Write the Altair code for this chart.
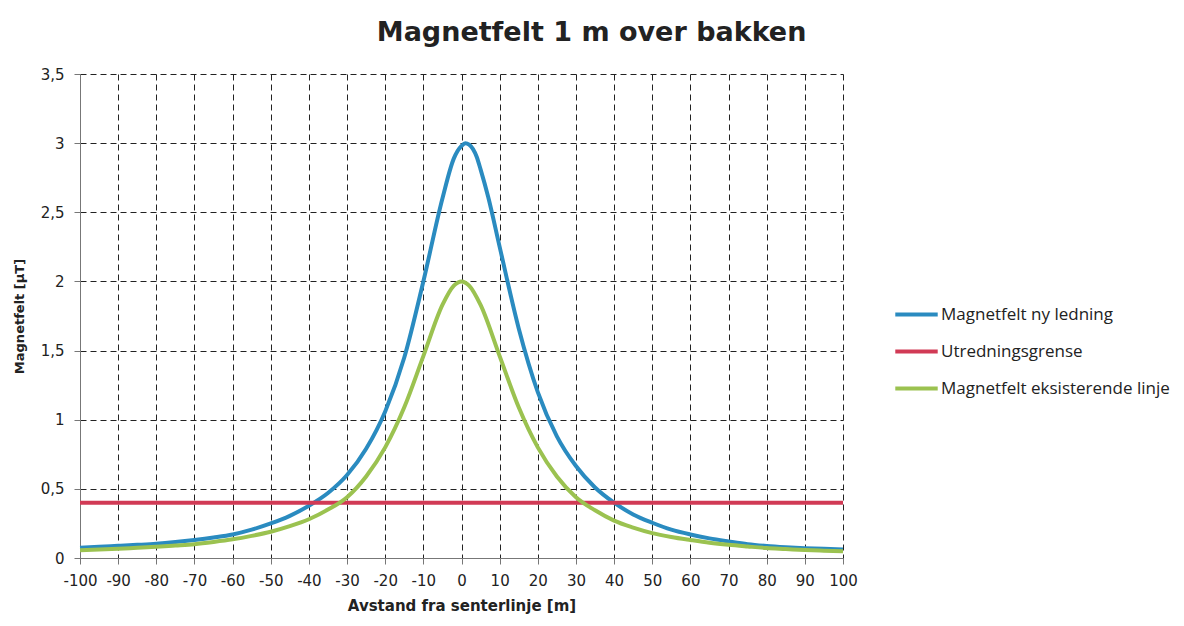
import altair as alt
import pandas as pd

# Distance from centre line [m] and field values [µT]
x_ny = [-100, -95, -90, -85, -80, -75, -70, -65, -60, -55, -50, -45, -40, -35, -30, -25, -20, -15,
        -10, -5, -2, 0, 1, 2, 4, 5, 7, 10, 15, 20, 25, 30, 35, 40, 45, 50, 55, 60, 65, 70, 75,
        80, 85, 90, 95, 100]
y_ny = [0.075, 0.081, 0.088, 0.095, 0.103, 0.115, 0.13, 0.148, 0.17, 0.205, 0.25, 0.305, 0.378,
        0.47, 0.6, 0.79, 1.06, 1.45, 2.0, 2.6, 2.89, 2.98, 3.0, 2.99, 2.9, 2.81, 2.61, 2.25, 1.66,
        1.2, 0.88, 0.665, 0.51, 0.4, 0.315, 0.255, 0.205, 0.17, 0.142, 0.12, 0.1, 0.087, 0.078,
        0.071, 0.066, 0.062]

x_eks = [-100, -95, -90, -85, -80, -75, -70, -65, -60, -55, -50, -45, -40, -35, -30, -25, -20, -15,
         -10, -5, -2, 0, 2, 5, 10, 15, 20, 25, 30, 35, 40, 45, 50, 55, 60, 65, 70, 75, 80, 85, 90,
         95, 100]
y_eks = [0.056, 0.061, 0.067, 0.074, 0.081, 0.09, 0.10, 0.116, 0.135, 0.16, 0.19, 0.23, 0.28,
         0.35, 0.44, 0.59, 0.80, 1.09, 1.46, 1.83, 1.97, 2.0, 1.97, 1.83, 1.46, 1.09, 0.80, 0.59,
         0.44, 0.345, 0.27, 0.22, 0.18, 0.152, 0.13, 0.11, 0.095, 0.083, 0.072, 0.065, 0.058,
         0.053, 0.048]

x_grense = [-100, 100]
y_grense = [0.4, 0.4]

series = ["Magnetfelt ny ledning", "Utredningsgrense", "Magnetfelt eksisterende linje"]
colors = ["#2A8BC0", "#D13A55", "#9BC250"]

x_ticks = list(range(-100, 101, 10))
y_ticks = [0, 0.5, 1, 1.5, 2, 2.5, 3, 3.5]

rows = []
for xs, ys, name in [(x_ny, y_ny, series[0]), (x_grense, y_grense, series[1]), (x_eks, y_eks, series[2])]:
    for i, (a, b) in enumerate(zip(xs, ys)):
        rows.append({"x": a, "y": b, "serie": name, "o": i})
df = pd.DataFrame(rows)

chart = alt.Chart(df).mark_line(strokeWidth=4, interpolate="monotone").encode(
    x=alt.X("x:Q",
            scale=alt.Scale(domain=[-100, 100], nice=False, zero=False),
            axis=alt.Axis(values=x_ticks, title="Avstand fra senterlinje [m]",
                          titleFontSize=15, titleFontWeight="bold", titlePadding=10,
                          labelFontSize=15, labelPadding=9, tickSize=6,
                          labelFlush=False, labelExpr="toString(datum.value)")),
    y=alt.Y("y:Q",
            scale=alt.Scale(domain=[0, 3.5], nice=False),
            axis=alt.Axis(values=y_ticks, title="Magnetfelt [µT]",
                          titleFontSize=13, titleFontWeight="bold", titlePadding=14,
                          labelFontSize=15, labelPadding=10, tickSize=6,
                          labelExpr="replace(toString(datum.value), '.', ',')")),
    color=alt.Color("serie:N",
                    scale=alt.Scale(domain=series, range=colors),
                    sort=series,
                    legend=alt.Legend(title=None, orient="none", legendX=813, legendY=217,
                                      symbolType="stroke", symbolSize=1800, symbolStrokeWidth=4,
                                      labelFontSize=17, labelFont="Open Sans", rowPadding=5,
                                      labelOffset=1, labelColor="#222", labelLimit=400)),
    order="o:Q",
).properties(
    width=763, height=484,
    title=alt.TitleParams("Magnetfelt 1 m over bakken", fontSize=27, fontWeight="bold",
                          font="DejaVu Sans", color="#222", frame="bounds", anchor="middle",
                          offset=20),
    autosize=alt.AutoSizeParams(type="none"),
    padding={"left": 72, "top": 66, "right": 333, "bottom": 60},
).configure_view(stroke=None).configure_axis(
    grid=True, gridDash=[6, 4], gridColor="#222", gridWidth=1, gridOpacity=1,
    domainColor="#777", tickColor="#777", labelColor="#222", titleColor="#222",
    labelFont="DejaVu Sans", titleFont="DejaVu Sans",
)

chart.save("out.html", embed_options={"renderer": "svg", "actions": False})
